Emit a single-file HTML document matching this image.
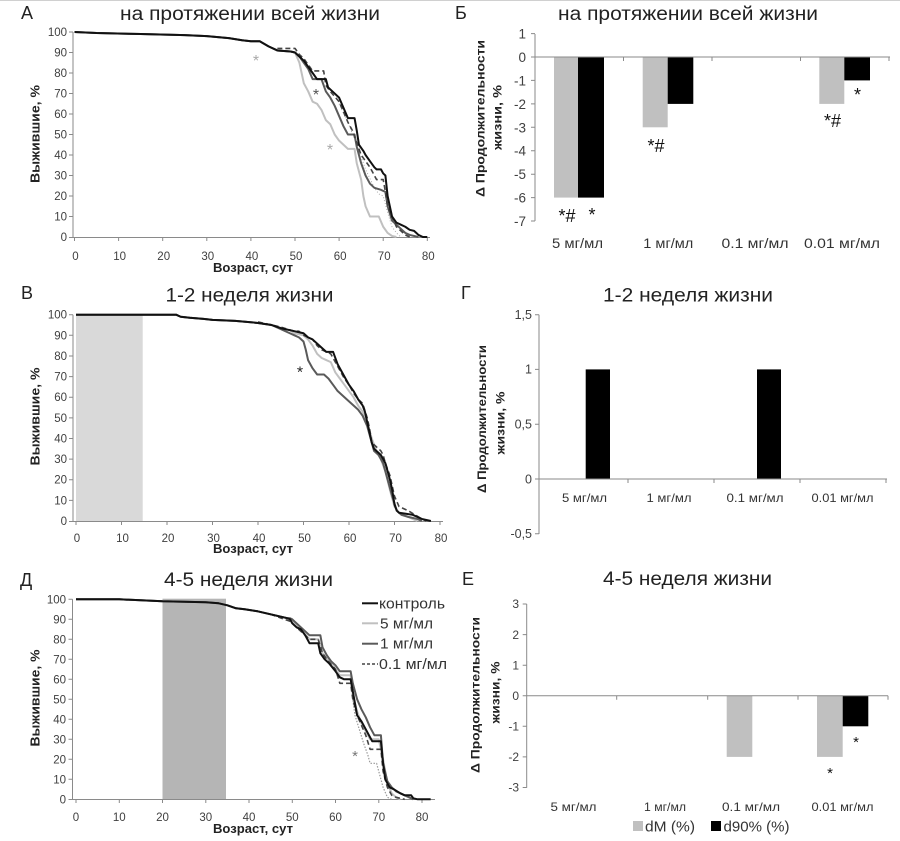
<!DOCTYPE html>
<html><head><meta charset="utf-8"><style>
html,body{margin:0;padding:0;background:#fff;}
svg{display:block;font-family:"Liberation Sans","DejaVu Sans",sans-serif;}
</style></head><body>
<svg width="900" height="841" viewBox="0 0 900 841" xmlns="http://www.w3.org/2000/svg">
<line x1="0" y1="0.5" x2="900" y2="0.5" stroke="#d0d0d0" stroke-width="1"/>

<!-- ============ Panel А ============ -->
<text x="21" y="19" font-size="18" fill="#222">А</text>
<text x="250" y="20" font-size="19" fill="#222" text-anchor="middle" textLength="260" lengthAdjust="spacingAndGlyphs">на протяжении всей жизни</text>
<g stroke="#8a8a8a" stroke-width="1" fill="none">
<line x1="73" y1="32" x2="73" y2="237.5"/>
<line x1="69" y1="237.5" x2="430" y2="237.5"/>
<path d="M69 32h4M69 52.5h4M69 73h4M69 93.5h4M69 114h4M69 134.5h4M69 155h4M69 175.5h4M69 196h4M69 216.5h4"/>
<path d="M74.5 237v4M118.6 237v4M162.7 237v4M206.8 237v4M250.9 237v4M295 237v4M339.1 237v4M383.2 237v4M427.3 237v4"/>
</g>
<g font-size="11.5" fill="#404040" text-anchor="end">
<text x="67" y="36">100</text><text x="67" y="56.5">90</text><text x="67" y="77">80</text><text x="67" y="97.5">70</text><text x="67" y="118">60</text><text x="67" y="138.5">50</text><text x="67" y="159">40</text><text x="67" y="179.5">30</text><text x="67" y="200">20</text><text x="67" y="220.5">10</text><text x="67" y="241">0</text>
</g>
<g font-size="11.5" fill="#404040" text-anchor="middle">
<text x="75.5" y="260">0</text><text x="119.6" y="260">10</text><text x="163.7" y="260">20</text><text x="207.8" y="260">30</text><text x="251.9" y="260">40</text><text x="296" y="260">50</text><text x="340.1" y="260">60</text><text x="384.2" y="260">70</text><text x="428.3" y="260">80</text>
</g>
<text x="253" y="272" font-size="12.5" font-weight="bold" fill="#222" text-anchor="middle" textLength="80" lengthAdjust="spacingAndGlyphs">Возраст, сут</text>
<text transform="translate(39.5,134) rotate(-90)" font-size="12.5" font-weight="bold" fill="#222" text-anchor="middle" textLength="98" lengthAdjust="spacingAndGlyphs">Выжившие, %</text>
<g transform="translate(74.5,237) scale(4.41,-2.05)" fill="none" stroke-linejoin="round">
<polyline vector-effect="non-scaling-stroke" stroke="#aaa" stroke-width="1" stroke-dasharray="1,2" points="60,65 62,56 64,45 66,33 68,24 69,21 70,20 71,12 72,5 73,2 74,0"/>
<polyline vector-effect="non-scaling-stroke" stroke="#c0c0c0" stroke-width="2" points="0,100 5,99.5 15,99 25,98.5 30,98 35,97 38,96 40,95.5 42,95.5 44,93 46,91 49,90.5 50,90 51,85 51.5,80 52,75 53,71 54,66 55,65 56,62 57,57 58,55 59,50 60,47 61,45 62,43 63.5,43 64,36 65,28 65.5,20 66,15 67,10 69,10 70,5 71,2 72,0.5 73,0"/>
<polyline vector-effect="non-scaling-stroke" stroke="#5a5a5a" stroke-width="2" points="0,100 5,99.5 15,99 25,98.5 30,98 35,97 38,96 40,95.5 42,95.5 44,93 46,91 49,90.5 50,90 51,88 52,85 53,82 54,77 56,77 57,71 58,68 59,64 60,59 61,54 62,50 63.5,50 64,44 65,36 66,30 67,26 68,24 69.5,23 70.5,22 71,15 72,8 73,6 74,4 75,2 76,1 78,0"/>
<polyline vector-effect="non-scaling-stroke" stroke="#444" stroke-width="1.6" stroke-dasharray="5,3" points="46,92 50,92 51,89 52,87 53,84 54,81 56.5,81 57,74 58,71 60,66 61,61 62,56 63,52 64,46 65,40 66,37 67,34 68,30 68.5,28 70,28 70.5,22 71,15 72,10 73,5 74,3 75,1 76,0"/>
<polyline vector-effect="non-scaling-stroke" stroke="#111" stroke-width="2" points="0,100 5,99.5 15,99 25,98.5 30,98 35,97 38,96 40,95.5 42,95.5 44,93 46,91 49,90.5 50,90 51,88 52,86 53,83 54,80 55,77 57,77 57.5,73 58.5,71 60,68 61,63 62,58 63.5,58 64,52 64.5,45 65.5,42 66,40 67,37 68,34 68.5,33 69.5,33 70,31 70.5,30 71,20 71.5,15 72,10 73,7 74,6 75,5 76,3.5 77,3 77.5,2 78,1 79,0 80,0"/>
</g>
<text x="256" y="66" font-size="16" fill="#aaa" text-anchor="middle">*</text>
<text x="316" y="100" font-size="16" fill="#555" text-anchor="middle">*</text>
<text x="330" y="155" font-size="16" fill="#aaa" text-anchor="middle">*</text>

<!-- ============ Panel Б ============ -->
<text x="455" y="19" font-size="18" fill="#222">Б</text>
<text x="688" y="20" font-size="19" fill="#222" text-anchor="middle" textLength="260" lengthAdjust="spacingAndGlyphs">на протяжении всей жизни</text>
<rect x="554" y="57" width="24" height="140.6" fill="#c0c0c0"/>
<rect x="578" y="57" width="26" height="140.6" fill="#000"/>
<rect x="642.7" y="57" width="25" height="70.3" fill="#c0c0c0"/>
<rect x="667.7" y="57" width="25.6" height="46.9" fill="#000"/>
<rect x="819.3" y="57" width="25" height="46.9" fill="#c0c0c0"/>
<rect x="844.3" y="57" width="25.7" height="23.4" fill="#000"/>
<g stroke="#8a8a8a" stroke-width="1" fill="none">
<line x1="535" y1="34" x2="535" y2="221"/>
<line x1="535" y1="57" x2="890" y2="57"/>
<path d="M531 33.6h4M531 57h4M531 80.4h4M531 103.9h4M531 127.3h4M531 150.7h4M531 174.2h4M531 197.6h4M531 221h4"/>
<path d="M623.5 57v4M712 57v4M800.5 57v4M889 57v4"/>
</g>
<g font-size="13.5" fill="#404040" text-anchor="end">
<text x="526" y="38.5">1</text><text x="526" y="62">0</text><text x="526" y="85.4">-1</text><text x="526" y="108.9">-2</text><text x="526" y="132.3">-3</text><text x="526" y="155.7">-4</text><text x="526" y="179.2">-5</text><text x="526" y="202.6">-6</text><text x="526" y="226">-7</text>
</g>
<g font-size="13.5" fill="#333" text-anchor="middle">
<text x="577.5" y="248" textLength="51" lengthAdjust="spacingAndGlyphs">5 мг/мл</text><text x="668.3" y="248" textLength="50" lengthAdjust="spacingAndGlyphs">1 мг/мл</text><text x="755" y="248" textLength="67" lengthAdjust="spacingAndGlyphs">0.1 мг/мл</text><text x="842" y="248" textLength="76" lengthAdjust="spacingAndGlyphs">0.01 мг/мл</text>
</g>
<text transform="translate(484.5,118.5) rotate(-90)" font-size="12" font-weight="bold" fill="#222" text-anchor="middle" textLength="157" lengthAdjust="spacingAndGlyphs">Δ Продолжительности</text>
<text transform="translate(501.5,117.5) rotate(-90)" font-size="12" font-weight="bold" fill="#222" text-anchor="middle" textLength="65" lengthAdjust="spacingAndGlyphs">жизни, %</text>
<g font-size="18" fill="#111" text-anchor="middle">
<text x="567" y="222">*#</text><text x="592" y="221">*</text>
<text x="656" y="152">*#</text>
<text x="832.5" y="127">*#</text><text x="857.5" y="101">*</text>
</g>

<!-- ============ Panel В ============ -->
<text x="21" y="299" font-size="18" fill="#222">В</text>
<text x="249.5" y="301.5" font-size="19" fill="#222" text-anchor="middle" textLength="168" lengthAdjust="spacingAndGlyphs">1-2 неделя жизни</text>
<rect x="76" y="314.7" width="66.7" height="206.3" fill="#d9d9d9"/>
<g stroke="#8a8a8a" stroke-width="1" fill="none">
<line x1="73" y1="314.7" x2="73" y2="521.5"/>
<line x1="69" y1="521.5" x2="443" y2="521.5"/>
<path d="M69 314.7h4M69 335.3h4M69 356h4M69 376.6h4M69 397.2h4M69 417.9h4M69 438.5h4M69 459.1h4M69 479.7h4M69 500.4h4"/>
<path d="M76 521v4M121.5 521v4M167 521v4M212.5 521v4M258 521v4M303.5 521v4M349 521v4M394.5 521v4M440 521v4"/>
</g>
<g font-size="11.5" fill="#404040" text-anchor="end">
<text x="67" y="318.7">100</text><text x="67" y="339.3">90</text><text x="67" y="360">80</text><text x="67" y="380.6">70</text><text x="67" y="401.2">60</text><text x="67" y="421.9">50</text><text x="67" y="442.5">40</text><text x="67" y="463.1">30</text><text x="67" y="483.7">20</text><text x="67" y="504.4">10</text><text x="67" y="525">0</text>
</g>
<g font-size="11.5" fill="#404040" text-anchor="middle">
<text x="77" y="542">0</text><text x="122.5" y="542">10</text><text x="168" y="542">20</text><text x="213.5" y="542">30</text><text x="259" y="542">40</text><text x="304.5" y="542">50</text><text x="350" y="542">60</text><text x="395.5" y="542">70</text><text x="441" y="542">80</text>
</g>
<text x="253" y="553" font-size="12.5" font-weight="bold" fill="#222" text-anchor="middle" textLength="80" lengthAdjust="spacingAndGlyphs">Возраст, сут</text>
<text transform="translate(39.5,416.5) rotate(-90)" font-size="12.5" font-weight="bold" fill="#222" text-anchor="middle" textLength="98" lengthAdjust="spacingAndGlyphs">Выжившие, %</text>
<g transform="translate(76,521) scale(4.55,-2.063)" fill="none" stroke-linejoin="round">
<polyline vector-effect="non-scaling-stroke" stroke="#c0c0c0" stroke-width="2" points="0,100 22,100 23,99 25,98.5 28,98 30,97.5 35,97 40,96 43,95 45,93.5 47,92.5 48,91 50,90 51,88 52,85 53,81 54,79 55,78 56,77 57,72 58,69 59,66 60,63 61,60 62,56 63,53 64,48 65,40 66,34 67,30 68,24 69,15 70,7 71,4 72,3 74,1 75,0"/>
<polyline vector-effect="non-scaling-stroke" stroke="#5a5a5a" stroke-width="2" points="0,100 22,100 23,99 25,98.5 28,98 30,97.5 35,97 40,96 43,95 45,93 47,91 48,90 49,89 50,87 50.5,83 51,78 52,74 53,71 54.5,71 55.5,69 56.5,66 57.5,63 59,60 60,58 61,56 62,54 63,51 64,46 65,38 65.5,34 66.5,32 67.5,28 68.5,20 69.5,12 70.5,5 71.5,3 73,2 75,1 76,0"/>
<polyline vector-effect="non-scaling-stroke" stroke="#444" stroke-width="1.6" stroke-dasharray="5,3" points="40,96.5 45,94 48,92 49,92 50,90 52,88 53,85 54,83 56,81 57,77 58,73 59,69 60,66 61,62 62,59 63,57 64,50 64.5,45 65,38 66,36 67,34 67.5,32 68,28 69,22 70,12 71,7 72,6 73,5 74.5,3 76,1 77,0"/>
<polyline vector-effect="non-scaling-stroke" stroke="#111" stroke-width="2" points="0,100 22,100 23,99 25,98.5 28,98 30,97.5 35,97 40,96 43,95 45,93.5 47,92.5 48,92 49,91.5 50,91 51,89 52,88 53,86 54,84 55,82 56.5,82 57.5,76 58.5,72 59.5,68 60,66 61,63 62,59 63,56 63.5,53 64,48 65,38 65.5,35 66.5,33 67,32 68,28 69,20 69.5,15 70,8 70.5,5 71,4 72.5,3.5 74,3 75,2 76,1 77,0.5 78,0"/>
</g>
<text x="300" y="377.5" font-size="16" fill="#222" text-anchor="middle">*</text>

<!-- ============ Panel Г ============ -->
<text x="461" y="299" font-size="18" fill="#222">Г</text>
<text x="688" y="301.5" font-size="19" fill="#222" text-anchor="middle" textLength="170" lengthAdjust="spacingAndGlyphs">1-2 неделя жизни</text>
<rect x="585.7" y="369.4" width="24.3" height="109.6" fill="#000"/>
<rect x="757" y="369.4" width="24" height="109.6" fill="#000"/>
<g stroke="#8a8a8a" stroke-width="1" fill="none">
<line x1="539" y1="314.7" x2="539" y2="534"/>
<line x1="539" y1="479" x2="887" y2="479"/>
<path d="M535 314.7h4M535 369.4h4M535 424.2h4M535 479h4M535 533.8h4"/>
<path d="M628 479v4M714 479v4M800 479v4M886 479v4"/>
</g>
<g font-size="12.5" fill="#404040" text-anchor="end">
<text x="532" y="319">1,5</text><text x="532" y="373.7">1</text><text x="532" y="428.5">0,5</text><text x="532" y="483.3">0</text><text x="532" y="538">-0,5</text>
</g>
<g font-size="12" fill="#333" text-anchor="middle">
<text x="584.5" y="502" textLength="45" lengthAdjust="spacingAndGlyphs">5 мг/мл</text><text x="669" y="502" textLength="45" lengthAdjust="spacingAndGlyphs">1 мг/мл</text><text x="755" y="502" textLength="57" lengthAdjust="spacingAndGlyphs">0.1 мг/мл</text><text x="842.5" y="502" textLength="62" lengthAdjust="spacingAndGlyphs">0.01 мг/мл</text>
</g>
<text transform="translate(486,419) rotate(-90)" font-size="12" font-weight="bold" fill="#222" text-anchor="middle" textLength="148" lengthAdjust="spacingAndGlyphs">Δ Продолжительности</text>
<text transform="translate(504.5,423) rotate(-90)" font-size="12" font-weight="bold" fill="#222" text-anchor="middle" textLength="63" lengthAdjust="spacingAndGlyphs">жизни, %</text>

<!-- ============ Panel Д ============ -->
<text x="20" y="586" font-size="18" fill="#222">Д</text>
<text x="248.5" y="586" font-size="19" fill="#222" text-anchor="middle" textLength="169" lengthAdjust="spacingAndGlyphs">4-5 неделя жизни</text>
<rect x="162.5" y="598.7" width="63.5" height="200.6" fill="#b5b5b5"/>
<g stroke="#8a8a8a" stroke-width="1" fill="none">
<line x1="72.5" y1="599.3" x2="72.5" y2="799.5"/>
<line x1="68.5" y1="799.5" x2="435" y2="799.5"/>
<path d="M68.5 599.3h4M68.5 619.3h4M68.5 639.3h4M68.5 659.3h4M68.5 679.3h4M68.5 699.3h4M68.5 719.3h4M68.5 739.3h4M68.5 759.3h4M68.5 779.3h4"/>
<path d="M76 799v4M119.3 799v4M162.5 799v4M205.8 799v4M249 799v4M292.3 799v4M335.5 799v4M378.8 799v4M422 799v4"/>
</g>
<g font-size="11.5" fill="#404040" text-anchor="end">
<text x="66" y="603.3">100</text><text x="66" y="623.3">90</text><text x="66" y="643.3">80</text><text x="66" y="663.3">70</text><text x="66" y="683.3">60</text><text x="66" y="703.3">50</text><text x="66" y="723.3">40</text><text x="66" y="743.3">30</text><text x="66" y="763.3">20</text><text x="66" y="783.3">10</text><text x="66" y="803.3">0</text>
</g>
<g font-size="11.5" fill="#404040" text-anchor="middle">
<text x="76" y="821">0</text><text x="119.3" y="821">10</text><text x="162.5" y="821">20</text><text x="205.8" y="821">30</text><text x="249" y="821">40</text><text x="292.3" y="821">50</text><text x="335.5" y="821">60</text><text x="378.8" y="821">70</text><text x="422" y="821">80</text>
</g>
<text x="253" y="833" font-size="12.5" font-weight="bold" fill="#222" text-anchor="middle" textLength="80" lengthAdjust="spacingAndGlyphs">Возраст, сут</text>
<text transform="translate(39.5,698) rotate(-90)" font-size="12.5" font-weight="bold" fill="#222" text-anchor="middle" textLength="97" lengthAdjust="spacingAndGlyphs">Выжившие, %</text>
<g transform="translate(76,799.3) scale(4.325,-2.0)" fill="none" stroke-linejoin="round">
<polyline vector-effect="non-scaling-stroke" stroke="#999" stroke-width="1.2" stroke-dasharray="1.5,1.5" points="63.5,60 64,50 64.5,42 65.5,35 66.5,28 67.5,22 68,18 69.5,18 70,14 71,6 72,1 73,0"/>
<polyline vector-effect="non-scaling-stroke" stroke="#c0c0c0" stroke-width="2" points="0,100 10,100 15,99.5 20,99 25,98.8 30,98.5 33,98 35,97 37,95.5 39,95 42,94 45,92.5 47,91.5 49,90.5 49.5,90 50,89 52,85 54,80 56,80 57,73 59,68 60,65 61,62 63.5,62 64,52 65,44 66,38 67,34 68,30 70,30 71,20 72,8 73,3 74,1 75,0"/>
<polyline vector-effect="non-scaling-stroke" stroke="#5a5a5a" stroke-width="2" points="0,100 10,100 15,99.5 20,99 25,98.8 30,98.5 33,98 35,97 37,95.5 39,95 42,94 45,92.5 47,91.5 49,90.5 49.5,90.5 50,90 51,88 52,86 53,84 54,82 56.5,82 57,76 58,72 59,69 60,67 61,64 63.5,64 64,58 65,50 66,45 67,41 68,36 69,32 70.5,32 71,18 72,9 73,6 74,4 75,3 76,2 77,1 78,0"/>
<polyline vector-effect="non-scaling-stroke" stroke="#444" stroke-width="1.6" stroke-dasharray="5,3" points="45,92.5 49.5,89 50,88 52,84 54,80 56,80 57,73 58,70 60,65 61,58 63.5,58 64,50 65,42 66,37 67,32 68,25 70.5,25 71,14 72,6 73,2 74,1 76,0"/>
<polyline vector-effect="non-scaling-stroke" stroke="#111" stroke-width="2" points="0,100 10,100 15,99.5 20,99 25,98.8 30,98.5 33,98 35,97 37,95.5 39,95 42,94 45,92.5 47,91.5 49,90.5 49.5,90 50,88 51,86 52,85 53,82 54,78 56,78 56.5,73 57.5,70 58.5,68 60,64 61,61 62,60 63.5,60 64,54 64.5,48 65,42 66,39 67,35 68,31 68.5,29 70.5,29 71,18 71.5,10 72.5,6 73.5,5 75,3 76,2 77.5,2 78,0.5 79,0 82,0"/>
</g>
<text x="355" y="761" font-size="15" fill="#777" text-anchor="middle">*</text>
<!-- legend -->
<g font-size="14.5" fill="#333">
<line x1="362" y1="603.3" x2="378" y2="603.3" stroke="#111" stroke-width="2"/>
<text x="379" y="608.3" textLength="66" lengthAdjust="spacingAndGlyphs">контроль</text>
<line x1="362" y1="623.3" x2="378" y2="623.3" stroke="#c0c0c0" stroke-width="2"/>
<text x="380" y="628.3" textLength="53" lengthAdjust="spacingAndGlyphs">5 мг/мл</text>
<line x1="362" y1="643.7" x2="378" y2="643.7" stroke="#5a5a5a" stroke-width="2"/>
<text x="380" y="648.7" textLength="53" lengthAdjust="spacingAndGlyphs">1 мг/мл</text>
<line x1="362" y1="664" x2="378" y2="664" stroke="#444" stroke-width="1.5" stroke-dasharray="3,2"/>
<text x="379" y="669" textLength="68" lengthAdjust="spacingAndGlyphs">0.1 мг/мл</text>
</g>

<!-- ============ Panel Е ============ -->
<text x="462" y="585" font-size="18" fill="#222">Е</text>
<text x="687.5" y="585" font-size="19" fill="#222" text-anchor="middle" textLength="169" lengthAdjust="spacingAndGlyphs">4-5 неделя жизни</text>
<rect x="726.7" y="695.7" width="25.6" height="61.2" fill="#c0c0c0"/>
<rect x="817" y="695.7" width="25.7" height="61.2" fill="#c0c0c0"/>
<rect x="842.7" y="695.7" width="25.6" height="30.6" fill="#000"/>
<g stroke="#8a8a8a" stroke-width="1" fill="none">
<line x1="526.7" y1="604" x2="526.7" y2="787.7"/>
<line x1="526.7" y1="695.7" x2="888" y2="695.7"/>
<path d="M522.7 604h4M522.7 634.6h4M522.7 665.2h4M522.7 695.7h4M522.7 726.3h4M522.7 756.9h4M522.7 787.5h4"/>
<path d="M616.7 695.7v4M707.7 695.7v4M798 695.7v4M888 695.7v4"/>
</g>
<g font-size="12" fill="#404040" text-anchor="end">
<text x="519" y="608.2">3</text><text x="519" y="638.8">2</text><text x="519" y="669.4">1</text><text x="519" y="699.9">0</text><text x="519" y="730.5">-1</text><text x="519" y="761.1">-2</text><text x="519" y="791.7">-3</text>
</g>
<g font-size="12" fill="#333" text-anchor="middle">
<text x="573.5" y="811" textLength="46" lengthAdjust="spacingAndGlyphs">5 мг/мл</text><text x="665" y="811" textLength="42" lengthAdjust="spacingAndGlyphs">1 мг/мл</text><text x="751" y="811" textLength="58" lengthAdjust="spacingAndGlyphs">0.1 мг/мл</text><text x="842.5" y="811" textLength="62" lengthAdjust="spacingAndGlyphs">0.01 мг/мл</text>
</g>
<text transform="translate(479.5,695) rotate(-90)" font-size="12" font-weight="bold" fill="#222" text-anchor="middle" textLength="156" lengthAdjust="spacingAndGlyphs">Δ Продолжительности</text>
<text transform="translate(499.5,692.5) rotate(-90)" font-size="12" font-weight="bold" fill="#222" text-anchor="middle" textLength="62" lengthAdjust="spacingAndGlyphs">жизни, %</text>
<g font-size="15" fill="#111" text-anchor="middle">
<text x="830" y="778">*</text><text x="856" y="747">*</text>
</g>
<rect x="633" y="821" width="10" height="10" fill="#c0c0c0"/>
<text x="645" y="831.5" font-size="15" fill="#333" textLength="50" lengthAdjust="spacingAndGlyphs">dM (%)</text>
<rect x="711" y="821" width="10" height="10" fill="#000"/>
<text x="723.5" y="831.5" font-size="15" fill="#333" textLength="66" lengthAdjust="spacingAndGlyphs">d90% (%)</text>
</svg>
</body></html>
